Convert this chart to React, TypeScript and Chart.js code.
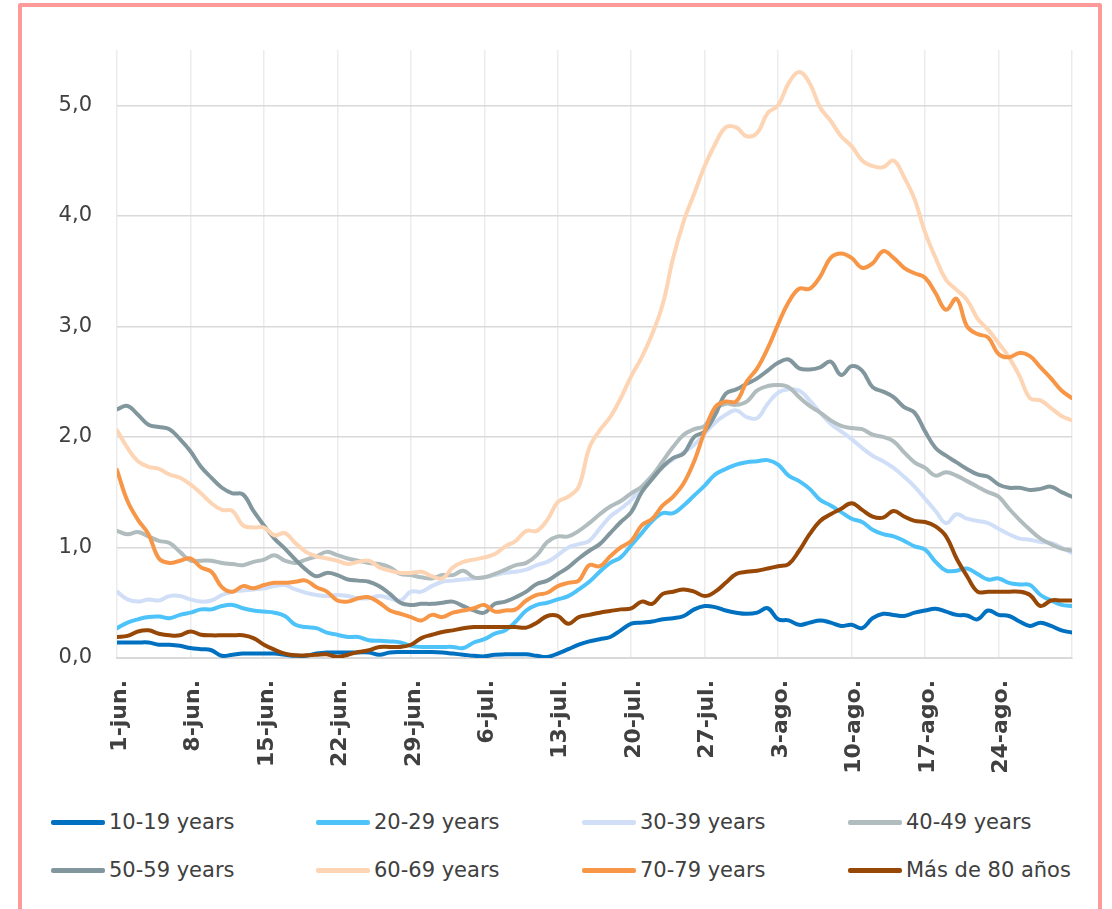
import React, { useEffect, useRef } from 'react';
import { Chart, registerables } from 'chart.js';

Chart.register(...registerables);

// Tick labels shown every 7 days on the x axis (day 0 = 1-jun)
const TICK_LABELS = ['1-jun.', '8-jun.', '15-jun.', '22-jun.', '29-jun.', '6-jul.', '13-jul.', '20-jul.', '27-jul.', '3-ago.', '10-ago.', '17-ago.', '24-ago.'];

const SERIES_NAMES = ['10-19 years', '20-29 years', '30-39 years', '40-49 years', '50-59 years', '60-69 years', '70-79 years', 'Más de 80 años'];
const SERIES_COLORS = ['#0070c0', '#4dc3fa', '#d0dff7', '#b0bcbd', '#82979d', '#fdd5b4', '#f79646', '#974806'];

// Daily values, 1-jun .. 31-ago (92 days)
const AGE_10_19 = [
  0.14, 0.14, 0.14, 0.14, 0.12, 0.12, 0.11, 0.09, 0.08, 0.07,
  0.02, 0.03, 0.04, 0.04, 0.04, 0.04, 0.03, 0.02, 0.02, 0.04,
  0.05, 0.05, 0.05, 0.05, 0.05, 0.03, 0.05, 0.055, 0.055, 0.055,
  0.055, 0.05, 0.04, 0.03, 0.02, 0.015, 0.03, 0.033, 0.033, 0.033,
  0.02, 0.01, 0.04, 0.08, 0.12, 0.15, 0.17, 0.19, 0.25, 0.31,
  0.32, 0.33, 0.35, 0.36, 0.38, 0.44, 0.47, 0.46, 0.43, 0.41,
  0.4, 0.41, 0.45, 0.35, 0.34, 0.3, 0.32, 0.34, 0.32, 0.29,
  0.3, 0.27, 0.36, 0.4, 0.39, 0.38, 0.41, 0.43, 0.445, 0.42,
  0.39, 0.385, 0.35, 0.43, 0.39, 0.38, 0.33, 0.29, 0.32, 0.29,
  0.25, 0.23,
];
const AGE_20_29 = [
  0.27, 0.32, 0.35, 0.37, 0.375, 0.36, 0.39, 0.41, 0.44, 0.44,
  0.47, 0.48, 0.45, 0.43, 0.42, 0.41, 0.38, 0.3, 0.28, 0.27,
  0.23, 0.21, 0.19, 0.19, 0.16, 0.155, 0.15, 0.14, 0.11, 0.1,
  0.1, 0.1, 0.1, 0.09, 0.14, 0.17, 0.22, 0.25, 0.33, 0.43,
  0.48, 0.5, 0.53, 0.56, 0.62, 0.69, 0.78, 0.86, 0.91, 1.02,
  1.13, 1.24, 1.31, 1.31, 1.38, 1.47, 1.56, 1.66, 1.71, 1.75,
  1.77, 1.78, 1.79, 1.75, 1.65, 1.6, 1.53, 1.43, 1.38, 1.32,
  1.26, 1.23, 1.16, 1.12, 1.1, 1.06, 1.01, 0.98, 0.87, 0.79,
  0.79, 0.81, 0.76, 0.71, 0.72, 0.68, 0.665, 0.66, 0.57, 0.52,
  0.48, 0.47,
];
const AGE_30_39 = [
  0.6, 0.53, 0.51, 0.53, 0.52, 0.56, 0.56, 0.53, 0.51, 0.52,
  0.57, 0.6, 0.61, 0.62, 0.63, 0.65, 0.66, 0.62, 0.59, 0.57,
  0.56, 0.57, 0.56, 0.54, 0.54, 0.56, 0.54, 0.52, 0.6, 0.6,
  0.65, 0.69, 0.7, 0.71, 0.72, 0.73, 0.75, 0.77, 0.78, 0.8,
  0.84, 0.87, 0.93, 1.0, 1.03, 1.06, 1.17, 1.28, 1.35, 1.43,
  1.55, 1.65, 1.73, 1.8, 1.86, 1.93, 2.03, 2.13, 2.2, 2.24,
  2.18, 2.17, 2.3, 2.4, 2.43, 2.42, 2.33, 2.22, 2.12, 2.05,
  1.98, 1.9, 1.83, 1.78, 1.72, 1.64, 1.55, 1.44, 1.33, 1.22,
  1.3, 1.26, 1.24, 1.22, 1.17, 1.12, 1.08, 1.07, 1.05, 1.04,
  1.0, 0.95,
];
const AGE_40_49 = [
  1.15, 1.12, 1.14, 1.1, 1.06, 1.04, 0.96, 0.88, 0.88, 0.88,
  0.86, 0.85, 0.84, 0.87, 0.89, 0.93, 0.88, 0.86, 0.89, 0.92,
  0.96, 0.93, 0.9, 0.88, 0.86, 0.85, 0.82, 0.76, 0.75, 0.73,
  0.72, 0.75, 0.75, 0.79, 0.73, 0.73, 0.76, 0.8, 0.84, 0.86,
  0.93, 1.05, 1.1, 1.1, 1.15, 1.22, 1.3, 1.37, 1.42, 1.49,
  1.55, 1.65, 1.78, 1.91, 2.02, 2.07, 2.1, 2.25, 2.3, 2.29,
  2.32, 2.42, 2.46, 2.47, 2.45, 2.36, 2.28, 2.22, 2.15, 2.1,
  2.08, 2.07, 2.02, 2.0, 1.96, 1.86, 1.77, 1.72, 1.65, 1.68,
  1.65, 1.6, 1.55, 1.5, 1.46, 1.35, 1.25, 1.16, 1.08, 1.03,
  0.99, 0.97,
];
const AGE_50_59 = [
  2.25, 2.28, 2.2, 2.11, 2.09, 2.07, 1.98, 1.87, 1.73, 1.63,
  1.54, 1.49, 1.48, 1.33, 1.2, 1.08, 0.99, 0.89, 0.8, 0.74,
  0.77, 0.75, 0.71, 0.7, 0.69, 0.65, 0.58, 0.5, 0.48, 0.49,
  0.49, 0.5, 0.51, 0.47, 0.43, 0.41, 0.49, 0.51, 0.55, 0.6,
  0.67, 0.7, 0.76, 0.82, 0.9, 0.97, 1.03, 1.13, 1.23, 1.32,
  1.5, 1.62, 1.73, 1.81, 1.85, 2.0, 2.05, 2.2, 2.39, 2.43,
  2.48, 2.53, 2.6, 2.67, 2.7, 2.62, 2.61, 2.63, 2.68, 2.56,
  2.64, 2.6, 2.45, 2.41, 2.36, 2.27, 2.22, 2.05, 1.9, 1.83,
  1.77, 1.71, 1.66, 1.64, 1.57, 1.54, 1.54, 1.52, 1.53, 1.55,
  1.5, 1.46,
];
const AGE_60_69 = [
  2.06, 1.9, 1.78, 1.73, 1.71, 1.66, 1.63, 1.57, 1.49, 1.4,
  1.34, 1.33, 1.2, 1.18, 1.18, 1.11, 1.13, 1.04, 0.96, 0.92,
  0.9, 0.88, 0.85, 0.87, 0.88, 0.82, 0.79, 0.77, 0.77, 0.78,
  0.74, 0.72, 0.82, 0.87, 0.89, 0.91, 0.94, 1.01, 1.06, 1.15,
  1.15, 1.25, 1.41, 1.46, 1.55, 1.9, 2.06, 2.18, 2.35, 2.55,
  2.72, 2.93, 3.2, 3.62, 3.95, 4.2, 4.45, 4.65, 4.8, 4.8,
  4.72, 4.75, 4.93, 5.0, 5.2, 5.3, 5.2, 4.98, 4.86, 4.72,
  4.63, 4.5, 4.45, 4.44, 4.5, 4.35, 4.15, 3.85, 3.62, 3.42,
  3.33, 3.24, 3.07, 2.97, 2.85, 2.72, 2.55, 2.35, 2.33, 2.26,
  2.19, 2.15,
];
const AGE_70_79 = [
  1.7, 1.42, 1.25, 1.12, 0.9, 0.86, 0.88, 0.9, 0.82, 0.78,
  0.64, 0.6, 0.65, 0.63, 0.66, 0.68, 0.68, 0.69, 0.7, 0.64,
  0.6, 0.52, 0.51, 0.54, 0.55, 0.5, 0.43, 0.4, 0.37, 0.34,
  0.39, 0.37, 0.41, 0.43, 0.45, 0.48, 0.42, 0.43, 0.44, 0.52,
  0.57, 0.59, 0.65, 0.68, 0.7, 0.84, 0.83, 0.92, 1.0, 1.06,
  1.2, 1.26, 1.38, 1.46, 1.58, 1.78, 2.05, 2.27, 2.32, 2.32,
  2.5, 2.62, 2.8, 3.02, 3.22, 3.34, 3.34, 3.45, 3.62, 3.66,
  3.62, 3.53, 3.57, 3.68, 3.62, 3.53, 3.48, 3.44, 3.3, 3.15,
  3.25, 3.0, 2.93, 2.9, 2.75, 2.72, 2.76, 2.73, 2.63, 2.53,
  2.42, 2.35,
];
const AGE_80_PLUS = [
  0.19, 0.2, 0.24, 0.25, 0.22, 0.205, 0.205, 0.24, 0.21, 0.205,
  0.205, 0.205, 0.205, 0.18, 0.12, 0.075, 0.04, 0.024, 0.024, 0.03,
  0.033, 0.01, 0.03, 0.055, 0.07, 0.1, 0.1, 0.1, 0.12, 0.18,
  0.21, 0.235, 0.25, 0.27, 0.28, 0.28, 0.28, 0.28, 0.28, 0.275,
  0.32, 0.38, 0.38, 0.31, 0.37, 0.39, 0.41, 0.425, 0.44, 0.45,
  0.51, 0.49, 0.58, 0.6, 0.62, 0.6, 0.56, 0.6, 0.68, 0.76,
  0.78, 0.79, 0.81, 0.83, 0.85, 0.97, 1.12, 1.24, 1.3, 1.35,
  1.4, 1.34, 1.28, 1.27, 1.33, 1.28, 1.24, 1.23, 1.19, 1.1,
  0.9, 0.74, 0.6, 0.6, 0.6, 0.6, 0.6, 0.57, 0.47, 0.52,
  0.52, 0.52,
];

const SERIES_VALUES = [AGE_10_19, AGE_20_29, AGE_30_39, AGE_40_49, AGE_50_59, AGE_60_69, AGE_70_79, AGE_80_PLUS];

const TEXT_COLOR = '#404040';

export default function App() {
  const canvasRef = useRef<HTMLCanvasElement | null>(null);

  useEffect(() => {
    if (!canvasRef.current) return;
    const datasets = SERIES_NAMES.map((name, i) => ({
      label: name,
      data: SERIES_VALUES[i].map((v, d) => ({ x: d, y: v })),
      borderColor: SERIES_COLORS[i],
      backgroundColor: SERIES_COLORS[i],
      borderWidth: 4,
      pointRadius: 0,
      pointHoverRadius: 0,
      tension: 0.4,
      borderCapStyle: 'round' as const,
      borderJoinStyle: 'round' as const,
      fill: false,
      order: SERIES_NAMES.length - i,
    }));

    const chart = new Chart(canvasRef.current, {
      type: 'line',
      data: { datasets },
      options: {
        responsive: false,
        animation: false,
        devicePixelRatio: 1,
        layout: { padding: { top: 50, right: 40, left: 0, bottom: 0 } },
        plugins: {
          legend: { display: false },
          tooltip: { enabled: false },
        },
        scales: {
          x: {
            type: 'linear',
            min: 0,
            max: 91,
            offset: false,
            afterFit: (scale: any) => {
              scale.height = 132;
              scale.paddingLeft = 0;
              scale.paddingRight = 0;
            },
            ticks: {
              stepSize: 7,
              autoSkip: false,
              minRotation: 90,
              maxRotation: 90,
              padding: 22,
              labelOffset: 3,
              color: TEXT_COLOR,
              font: { family: 'DejaVu Sans', size: 22, weight: 'bold' },
              callback: (value: any) => {
                const idx = Math.round(Number(value) / 7);
                return TICK_LABELS[idx] ?? '';
              },
            },
            grid: { color: '#ececec', lineWidth: 1.5, drawTicks: false },
            border: { display: true, color: '#d9d9d9', width: 2 },
          },
          y: {
            min: 0,
            max: 5.5,
            afterFit: (scale: any) => { scale.width = 117; },
            afterBuildTicks: (scale: any) => {
              scale.ticks = scale.ticks.filter((t: any) => Math.abs(t.value - Math.round(t.value)) < 1e-9);
            },
            ticks: {
              stepSize: 1,
              padding: 25,
              color: TEXT_COLOR,
              font: { family: 'DejaVu Sans', size: 21 },
              callback: (value: any) => Number(value).toFixed(1).replace('.', ','),
            },
            grid: { color: '#d9d9d9', lineWidth: 1.5, drawTicks: false },
            border: { display: false },
          },
        },
      },
    });
    return () => chart.destroy();
  }, []);

  const colLeft = [51, 316, 582, 848];
  const rowTop = [807, 855];

  return (
    <div style={{ position: 'absolute', left: 0, top: 0, width: 1112, height: 909, overflow: 'hidden', background: '#ffffff' }}>
      <div
        style={{
          position: 'absolute',
          left: 18,
          top: 3,
          width: 1084,
          height: 940,
          boxSizing: 'border-box',
          border: '4px solid #ff9a9a',
          borderRadius: 2,
        }}
      />
      <canvas ref={canvasRef} width={1112} height={790} style={{ position: 'absolute', left: 0, top: 0 }} />
      {SERIES_NAMES.map((name, i) => (
        <div
          key={name}
          style={{
            position: 'absolute',
            left: colLeft[i % 4],
            top: rowTop[Math.floor(i / 4)],
            height: 30,
            display: 'flex',
            alignItems: 'center',
            fontFamily: 'DejaVu Sans',
            fontSize: 21,
            color: TEXT_COLOR,
            whiteSpace: 'nowrap',
          }}
        >
          <span style={{ display: 'inline-block', width: 54, height: 5, borderRadius: 2, background: SERIES_COLORS[i], marginRight: 4 }} />
          <span>{name}</span>
        </div>
      ))}
    </div>
  );
}
